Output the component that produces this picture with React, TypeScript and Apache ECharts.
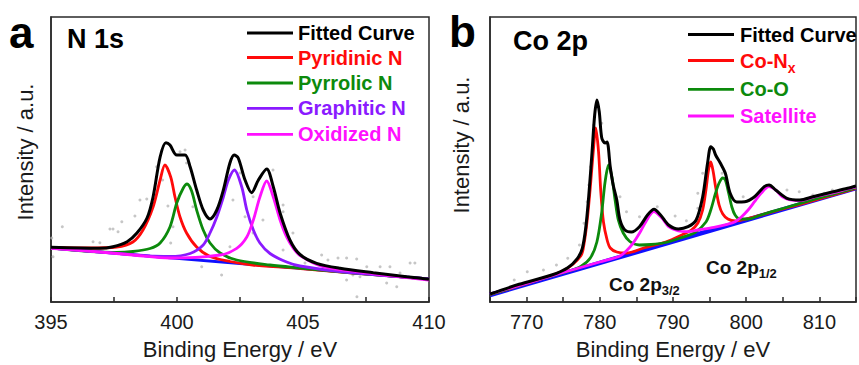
import React, { useEffect, useRef } from 'react';
import * as echarts from 'echarts';

const FONT = "'Liberation Sans', Arial, Helvetica, sans-serif";

// ---------- axis ranges ----------
const nXRange = [395, 410];
const coXRange = [765, 815];
const yRange = [0, 285];

// ---------- Panel a : N 1s ----------
const nSeriesNames = ['Fitted Curve', 'Pyridinic N', 'Pyrrolic N', 'Graphitic N', 'Oxidized N'];
const nSeriesColors = ['#000000', '#ff0a0a', '#0c8a0c', '#8a1aff', '#ff10ff'];

const nBackground = [[395, 54], [402.5, 38.5], [410, 23]];

const nFitted = [
  [395, 54.7], [396.94, 53.7], [397.46, 55.3], [398.02, 60.3], [398.41, 69], [398.81, 84],
  [399.05, 105], [399.33, 145], [399.56, 159.3], [399.72, 157], [399.99, 147], [400.32, 147],
  [400.52, 135.3], [400.78, 112], [401.04, 92], [401.31, 83], [401.58, 92], [401.84, 112],
  [402.1, 139], [402.27, 147], [402.43, 144], [402.7, 122], [402.96, 109.3], [403.23, 122],
  [403.56, 133], [403.82, 115.3], [404.09, 89], [404.48, 62], [404.88, 47.5], [405.54, 38.7],
  [406.47, 33.7], [407.79, 29.3], [409.11, 25.3], [410, 22.7],
];

const nPyridinic = [
  [395, 54.5], [396.5, 54], [397.6, 55], [398.25, 60], [398.65, 72], [399.05, 95], [399.33, 122],
  [399.52, 137], [399.75, 125], [399.92, 105], [400.12, 85], [400.38, 69], [400.78, 55],
  [401.31, 45.5], [402.1, 40.5], [403, 37], [404.9, 33.5], [407, 29], [410, 23],
];

const nPyrrolic = [
  [395, 54], [397.6, 49.5], [398.25, 50.5], [398.93, 53.5], [399.33, 59], [399.72, 75],
  [399.99, 99], [400.25, 114], [400.4, 118], [400.58, 111], [400.78, 92], [401.04, 72],
  [401.31, 59], [401.71, 49], [402.37, 42], [403.69, 37], [404.88, 34], [407, 29], [410, 23],
];

const nGraphitic = [
  [395, 54], [398.93, 46], [399.72, 45.5], [400.52, 48.5], [401.04, 57], [401.31, 69],
  [401.58, 85], [401.84, 105], [402.04, 122], [402.28, 132], [402.57, 115], [402.77, 92],
  [403.03, 72], [403.29, 59], [403.69, 48.5], [404.35, 40], [404.88, 36], [406.47, 30.5], [410, 23],
];

const nOxidized = [
  [395, 53.7], [396.94, 50], [398.25, 47], [399.72, 44], [401.71, 47], [402.37, 53.7],
  [402.77, 65], [403.03, 82], [403.29, 105], [403.56, 121], [403.82, 105], [404.09, 82],
  [404.35, 65], [404.62, 53.5], [404.88, 46.5], [405.79, 35.3], [407.13, 30.3], [408.45, 26.3], [410, 22],
];

const nRaw = [
  [395.45, 75.3], [395.03, 64], [395.08, 45.3], [396.67, 60.3], [396.94, 59.3], [397.34, 73],
  [397.46, 73], [397.66, 70.3], [397.81, 80.3], [398.33, 86], [398.53, 102], [398.8, 103],
  [399.19, 135.3], [399.43, 122], [399.75, 59], [399.84, 75.3], [399.64, 96], [400.12, 150.3],
  [400.32, 152], [400.38, 139], [400.63, 95.3], [400.98, 35.3], [401.23, 62], [401.77, 27],
  [402.1, 55.3], [402.22, 102], [402.5, 129], [402.7, 85.3], [403.02, 105.3], [403.02, 69],
  [403.41, 82], [403.81, 132], [404.21, 97], [404.21, 90.3], [404.6, 69], [404.21, 52],
  [405.08, 39], [405.74, 47], [405.99, 42], [406.39, 44], [406.73, 44], [407.13, 43],
  [407.14, 5.3], [407.26, 25.3], [407.53, 35.3], [408.06, 35.3], [408.45, 35.3], [408.32, 19],
  [408.72, 15.3], [409.25, 39], [409.44, 39], [408.85, 29], [406.73, 22], [406.98, 27],
];

// ---------- Panel b : Co 2p ----------
const coSeriesNames = ['Fitted Curve', 'Co-N', 'Co-O', 'Satellite'];
const coSeriesColors = ['#000000', '#ff0a0a', '#0c8a0c', '#ff10ff'];

const coBackground = [[765, 7], [815, 114]];

const coFitted = [
  [765, 8], [768.98, 17.7], [773.42, 27], [775.62, 34.3], [776.95, 43.7], [777.61, 53.7],
  [778.07, 73.7], [778.5, 107], [778.94, 150], [779.3, 187], [779.61, 202], [779.93, 190],
  [780.27, 164], [780.72, 159], [780.99, 160], [781.43, 135], [781.83, 117], [782.32, 102],
  [782.76, 82], [783.42, 72], [784.31, 70], [785.42, 75.3], [786.52, 87], [787.41, 92.7],
  [788.3, 87], [789.4, 77], [790.73, 73], [792.06, 75.3], [793.16, 82], [794.05, 105],
  [794.72, 138.7], [795.16, 155.3], [795.51, 153], [795.82, 147], [796.48, 138.7],
  [797.15, 128.7], [797.81, 108.7], [798.7, 100], [799.81, 100.3], [801.14, 105.3],
  [802.47, 115.3], [803.13, 117], [804.02, 112], [805.57, 103.7], [807.34, 102],
  [809.11, 105.3], [811.33, 109.3], [813.85, 113.7], [815, 116],
];

const coNx = [
  [765, 7.5], [772, 23], [775.2, 32], [777.4, 46], [777.84, 58], [778.28, 82], [778.73, 117],
  [779.1, 150], [779.45, 174], [779.83, 150], [780.14, 110], [780.5, 80], [781, 62],
  [781.43, 54], [782.32, 50], [783.65, 49], [786, 54], [789, 60], [791.2, 67], [792.5, 72],
  [793.4, 79], [794.05, 92], [794.5, 112], [794.85, 132], [795.16, 140], [795.5, 130],
  [795.82, 115], [796.3, 97], [796.8, 88], [797.5, 83], [798.5, 81], [800, 83], [805, 93],
  [810, 103], [815, 113.5],
];

const coO = [
  [765, 7.5], [772, 23], [775.6, 30.5], [777.4, 35.5], [778.7, 44], [779.6, 60], [780.27, 90],
  [780.72, 120], [781.2, 137], [781.65, 125], [782.09, 102], [782.53, 82], [783.2, 69],
  [784.1, 60.5], [785.4, 57], [787, 57.5], [789, 59.5], [791, 64], [793, 69.5], [794.5, 80],
  [795.16, 92], [795.82, 109], [796.3, 119], [796.8, 124], [797.15, 122], [797.6, 109],
  [798.04, 95], [798.48, 87], [799.14, 83], [800.3, 83], [802, 87], [805, 93.5], [810, 104], [815, 114],
];

const coSatellite = [
  [765, 8], [775, 29.5], [780, 40], [782.76, 46], [783.65, 51.3], [784.53, 58.7], [785.42, 68.7],
  [786.3, 80.3], [787.37, 90.3], [788.51, 83.7], [789.4, 75.3], [790.73, 71], [792.06, 70.3],
  [793.4, 72], [795.6, 74.7], [797.4, 77.7], [798.48, 80.3], [799.37, 85.3], [800.26, 92],
  [801.14, 100.3], [802.03, 108.7], [803.1, 115.3], [804.02, 112], [804.9, 105.3], [806.01, 102],
  [807.34, 101.3], [809.11, 104.7], [811.5, 108.5], [813.85, 113], [815, 115],
];

const coRaw = [
  [768.31, 22], [770.09, 30.3], [772.3, 32], [774.08, 37], [775.62, 43.7], [777.22, 57],
  [777.84, 78.7], [778.28, 100.3], [778.5, 117], [778.73, 135.3], [779.17, 177], [780.27, 178.7],
  [780.9, 159], [782.76, 105.3], [783.65, 90.3], [785.42, 85.3], [787.85, 95.3], [790.29, 86],
  [791.83, 81.3], [793.39, 108.7], [793.39, 93.7], [794.05, 128.7], [796.71, 128.7],
  [799.59, 105.3], [800.7, 103.7], [805.57, 112], [807.25, 110.3], [809.11, 107], [810.66, 108.7],
  [811.77, 112],
];

const AXIS_COLOR = '#2a2a2a';
const TEXT_COLOR = '#1a1a1a';

function makeX(gridIndex: number, range: number[], interval: number, labelStep: number) {
  return {
    type: 'value',
    gridIndex,
    min: range[0],
    max: range[1],
    interval,
    name: 'Binding Energy / eV',
    nameLocation: 'middle',
    nameGap: 36,
    nameTextStyle: { fontSize: 22, fontFamily: FONT, color: TEXT_COLOR },
    axisLine: { show: true, lineStyle: { color: AXIS_COLOR, width: 1.5 } },
    axisTick: { show: true, inside: true, length: 5, lineStyle: { color: AXIS_COLOR, width: 1.5 } },
    axisLabel: {
      show: true,
      margin: 10,
      fontSize: 20,
      fontFamily: FONT,
      color: TEXT_COLOR,
      showMinLabel: true,
      showMaxLabel: true,
      formatter: (v: number) => (Math.abs(v / labelStep - Math.round(v / labelStep)) < 1e-6 ? String(v) : ''),
    },
    splitLine: { show: false },
  };
}

function makeY(gridIndex: number) {
  return {
    type: 'value',
    gridIndex,
    min: yRange[0],
    max: yRange[1],
    axisLine: { show: true, lineStyle: { color: AXIS_COLOR, width: 1.5 } },
    axisTick: { show: false },
    axisLabel: { show: false },
    splitLine: { show: false },
  };
}

function lineSeries(name: string, data: number[][], color: string, width: number, idx: number, z: number) {
  return {
    type: 'line',
    name,
    data,
    xAxisIndex: idx,
    yAxisIndex: idx,
    symbol: 'none',
    showSymbol: false,
    smooth: 0.3,
    lineStyle: { color, width },
    z,
    silent: true,
  };
}

function scatterSeries(data: number[][], idx: number) {
  return {
    type: 'scatter',
    data,
    xAxisIndex: idx,
    yAxisIndex: idx,
    symbol: 'circle',
    symbolSize: 3,
    itemStyle: { color: '#b8b8b8' },
    z: 1,
    silent: true,
  };
}

function legendItems(names: string[], colors: string[], lineX: number, textX: number, rows: number[], subIndex: number) {
  const items: any[] = [];
  names.forEach((n, i) => {
    items.push({
      type: 'line',
      shape: { x1: lineX, y1: rows[i], x2: lineX + 46, y2: rows[i] },
      style: { stroke: colors[i], lineWidth: 2.8 },
    });
    items.push({
      type: 'text',
      x: textX,
      y: rows[i],
      style: {
        text: i === subIndex ? n + '{sub|x}' : n,
        fill: colors[i],
        fontSize: 20,
        fontWeight: 'bold',
        fontFamily: FONT,
        align: 'left',
        verticalAlign: 'middle',
        rich: {
          sub: { fontSize: 14, fontWeight: 'bold', fontFamily: FONT, fill: colors[i], padding: [15, 0, 0, 0] },
        },
      },
    });
  });
  return items;
}

export default function App() {
  const ref = useRef<HTMLDivElement>(null);

  useEffect(() => {
    if (!ref.current) return;
    const chart = echarts.init(ref.current, null, { renderer: 'svg' });

    const graphic: any[] = [
      { type: 'text', x: 9, y: 32, style: { text: 'a', fontSize: 44, fontWeight: 'bold', fontFamily: FONT, fill: '#000', align: 'left', verticalAlign: 'middle' } },
      { type: 'text', x: 449, y: 31, style: { text: 'b', fontSize: 44, fontWeight: 'bold', fontFamily: FONT, fill: '#000', align: 'left', verticalAlign: 'middle' } },
      { type: 'text', x: 67, y: 38.5, style: { text: 'N 1s', fontSize: 27, fontWeight: 'bold', fontFamily: FONT, fill: '#000', align: 'left', verticalAlign: 'middle' } },
      { type: 'text', x: 513, y: 41, style: { text: 'Co 2p', fontSize: 27, fontWeight: 'bold', fontFamily: FONT, fill: '#000', align: 'left', verticalAlign: 'middle' } },
      { type: 'text', x: 25, y: 152, rotation: Math.PI / 2, style: { text: 'Intensity / a.u.', fontSize: 22, fontFamily: FONT, fill: TEXT_COLOR, align: 'center', verticalAlign: 'middle' } },
      { type: 'text', x: 461, y: 145, rotation: Math.PI / 2, style: { text: 'Intensity / a.u.', fontSize: 22, fontFamily: FONT, fill: TEXT_COLOR, align: 'center', verticalAlign: 'middle' } },
      {
        type: 'text', x: 609, y: 284,
        style: {
          text: 'Co 2p{sub|3/2}', fontSize: 19, fontWeight: 'bold', fontFamily: FONT, fill: '#111', align: 'left', verticalAlign: 'middle',
          rich: { sub: { fontSize: 13, fontWeight: 'bold', fontFamily: FONT, fill: '#111', padding: [12, 0, 0, 0] } },
        },
      },
      {
        type: 'text', x: 706, y: 267,
        style: {
          text: 'Co 2p{sub|1/2}', fontSize: 19, fontWeight: 'bold', fontFamily: FONT, fill: '#111', align: 'left', verticalAlign: 'middle',
          rich: { sub: { fontSize: 13, fontWeight: 'bold', fontFamily: FONT, fill: '#111', padding: [12, 0, 0, 0] } },
        },
      },
      ...legendItems(nSeriesNames, nSeriesColors, 247, 298, [33, 57.5, 83, 108.3, 134.3], -1),
      ...legendItems(coSeriesNames, coSeriesColors, 688, 740, [34.5, 60.5, 89.3, 116], 1),
    ];

    const option: any = {
      animation: false,
      backgroundColor: '#ffffff',
      grid: [
        { left: 51, top: 17, width: 378, height: 285, show: true, borderColor: AXIS_COLOR, borderWidth: 1.5, backgroundColor: 'transparent' },
        { left: 490, top: 17, width: 376, height: 285, show: true, borderColor: AXIS_COLOR, borderWidth: 1.5, backgroundColor: 'transparent' },
      ],
      xAxis: [makeX(0, nXRange, 2.5, 5), makeX(1, coXRange, 5, 10)],
      yAxis: [makeY(0), makeY(1)],
      series: [
        scatterSeries(nRaw, 0),
        lineSeries('Background', nBackground, '#1010ff', 2.8, 0, 2),
        lineSeries(nSeriesNames[1], nPyridinic, nSeriesColors[1], 2.8, 0, 3),
        lineSeries(nSeriesNames[2], nPyrrolic, nSeriesColors[2], 2.8, 0, 3),
        lineSeries(nSeriesNames[3], nGraphitic, nSeriesColors[3], 2.8, 0, 3),
        lineSeries(nSeriesNames[4], nOxidized, nSeriesColors[4], 2.8, 0, 4),
        lineSeries(nSeriesNames[0], nFitted, nSeriesColors[0], 3, 0, 5),
        scatterSeries(coRaw, 1),
        lineSeries('Background', coBackground, '#1010ff', 4.5, 1, 2),
        lineSeries(coSeriesNames[1], coNx, coSeriesColors[1], 2.8, 1, 3),
        lineSeries(coSeriesNames[2], coO, coSeriesColors[2], 2.8, 1, 3),
        lineSeries(coSeriesNames[3], coSatellite, coSeriesColors[3], 2.8, 1, 4),
        lineSeries(coSeriesNames[0], coFitted, coSeriesColors[0], 3, 1, 5),
      ],
      graphic,
    };

    chart.setOption(option);
    return () => chart.dispose();
  }, []);

  return (
    <div
      ref={ref}
      style={{ position: 'fixed', left: 0, top: 0, width: 859, height: 365, background: '#fff' }}
    />
  );
}
